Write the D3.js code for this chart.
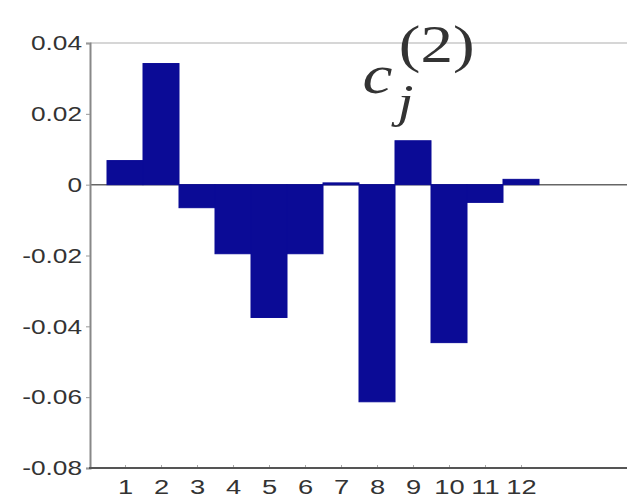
<!DOCTYPE html>
<html>
<head>
<meta charset="utf-8">
<script src="https://cdn.jsdelivr.net/npm/d3@7"></script>
<style>
  html, body { margin: 0; padding: 0; background: #fff; }
  svg { display: block; }
</style>
</head>
<body>
<svg id="chart" width="627" height="501"></svg>
<script>
// Coefficients c_j^(2) for j = 1..12
const indices = [1, 2, 3, 4, 5, 6, 7, 8, 9, 10, 11, 12];
const coefficients = [0.0068, 0.0342, -0.0065, -0.0195, -0.0375, -0.0195, 0.0005, -0.0613, 0.0124, -0.0446, -0.005, 0.0015];
const yTicks = [-0.08, -0.06, -0.04, -0.02, 0, 0.02, 0.04];
const yTickLabels = ["-0.08", "-0.06", "-0.04", "-0.02", "0", "0.02", "0.04"];

const svg = d3.select("#chart");
const plotLeft = 90, plotRight = 627, plotTop = 43, plotBottom = 468;

const x = d3.scaleLinear().domain([0, 15]).range([89, 629]);
const y = d3.scaleLinear().domain([-0.08, 0.04]).range([plotBottom, plotTop]);

const barColor = "#0b0b96";
const textColor = "#333";
const sansFont = "'Liberation Sans', Arial, sans-serif";
const serifFont = "'Times New Roman', 'Liberation Serif', 'DejaVu Serif', serif";

// Frame: top border
svg.append("line")
  .attr("x1", plotLeft).attr("x2", plotRight)
  .attr("y1", plotTop).attr("y2", plotTop)
  .attr("stroke", "#c8c8c8").attr("stroke-width", 1.5);

// Zero baseline
svg.append("line")
  .attr("x1", plotLeft).attr("x2", plotRight)
  .attr("y1", y(0)).attr("y2", y(0))
  .attr("stroke", "#666").attr("stroke-width", 1.5);

// Bars, unit width, adjacent
svg.append("g")
  .selectAll("rect")
  .data(indices)
  .join("rect")
  .attr("x", (d) => x(d - 0.5))
  .attr("width", (d) => x(d + 0.5) - x(d - 0.5))
  .attr("y", (d, i) => y(Math.max(0, coefficients[i])))
  .attr("height", (d, i) => Math.max(2, Math.abs(y(coefficients[i]) - y(0))))
  .attr("fill", barColor)
  .attr("stroke", barColor)
  .attr("stroke-width", 1);

// Y axis
const yAxis = d3.axisLeft(y)
  .tickValues(yTicks)
  .tickFormat((d, i) => yTickLabels[i])
  .tickSize(4);
const gy = svg.append("g")
  .attr("transform", `translate(${plotLeft},0)`)
  .call(yAxis);
gy.select(".domain").attr("stroke", "#888").attr("stroke-width", 2);
gy.selectAll(".tick line").attr("stroke", "#999");
gy.selectAll(".tick text")
  .attr("x", 0)
  .attr("transform", "translate(-8,0) scale(1.25,1)")
  .attr("fill", textColor)
  .attr("font-family", sansFont)
  .attr("font-size", 21);

// X axis
const xAxis = d3.axisBottom(x)
  .tickValues(indices)
  .tickFormat(d3.format("d"))
  .tickSize(-3);
const gx = svg.append("g")
  .attr("transform", `translate(0,${plotBottom})`)
  .call(xAxis);
gx.select(".domain").remove();
gx.append("line")
  .attr("x1", plotLeft - 1).attr("x2", plotRight)
  .attr("y1", 0).attr("y2", 0)
  .attr("stroke", "#555").attr("stroke-width", 2);
gx.selectAll(".tick line").attr("stroke", "#aaa");
gx.selectAll(".tick text")
  .attr("y", 0)
  .attr("transform", "translate(0,11) scale(1.3,1)")
  .attr("fill", textColor)
  .attr("font-family", sansFont)
  .attr("font-size", 21);

// Title: c_j^(2), set in a horizontally widened serif
const title = svg.append("g")
  .attr("transform", "translate(360,0) scale(1.25,1)")
  .attr("font-family", serifFont)
  .attr("fill", "#333");
title.append("text")
  .attr("x", 2).attr("y", 93)
  .attr("font-size", 54)
  .attr("font-style", "italic")
  .text("c");
title.append("text")
  .attr("x", 30).attr("y", 117)
  .attr("font-size", 46)
  .attr("font-style", "italic")
  .text("j");
title.append("text")
  .attr("x", 31).attr("y", 62)
  .attr("font-size", 52)
  .text("(2)");
</script>
</body>
</html>
